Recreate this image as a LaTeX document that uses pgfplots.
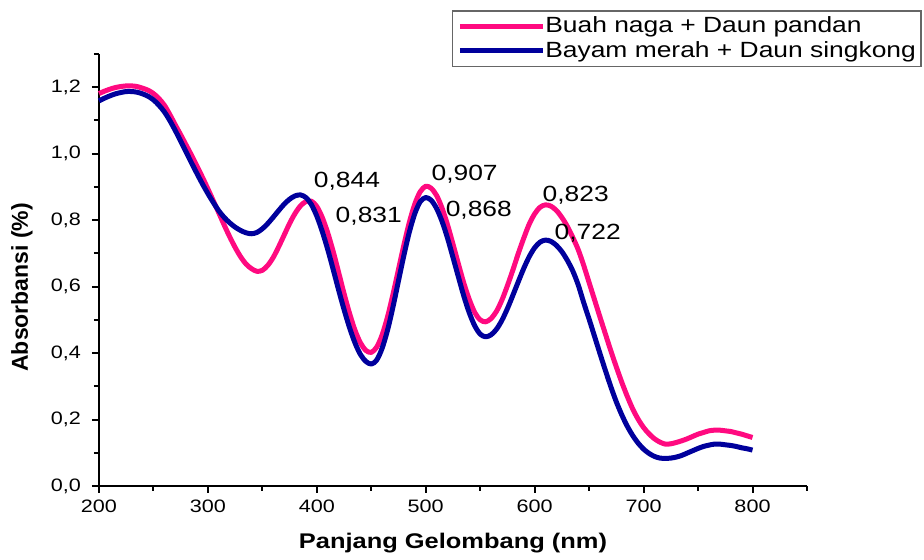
\documentclass[border=0pt]{standalone}
\usepackage{pgfplots}
\pgfplotsset{compat=1.18}
\usepackage{fontspec}
\setmainfont[FakeStretch=1.2]{Liberation Sans}
\newfontfamily\plainsans{Liberation Sans}
\definecolor{pinkc}{HTML}{FF0A80}
\definecolor{bluec}{HTML}{00009C}
\begin{document}
\begin{tikzpicture}
\begin{axis}[
  scale only axis, width=354pt, height=216pt,
  xmin=200, xmax=850, ymin=0, ymax=1.3,
  axis x line*=bottom, axis y line*=left,
  axis line style={line width=1pt, -},
  xtick={200,300,400,500,600,700,800},
  minor xtick={250,350,450,550,650,750,850},
  ytick={0,0.2,0.4,0.6,0.8,1.0,1.2},
  minor ytick={0.1,0.3,0.5,0.7,0.9,1.1,1.3},
  tick align=outside, major tick length=3.5pt, minor tick length=2.5pt,
  tick style={line width=1pt, black},
  /pgf/number format/assume math mode=true,
  yticklabel style={/pgf/number format/fixed, /pgf/number format/fixed zerofill, /pgf/number format/precision=1, /pgf/number format/use comma, xshift=-2pt},
  xticklabel style={/pgf/number format/fixed, /pgf/number format/1000 sep={}},
  ticklabel style={font=\fontsize{9}{10}\selectfont},
  xlabel={Panjang Gelombang (nm)}, ylabel={Absorbansi (\%)},
  xlabel style={font=\bfseries\fontsize{10.6}{13}\selectfont, at={(axis description cs:0.5,-0.132)}, anchor=center},
  ylabel style={font=\plainsans\bfseries\fontsize{11.5}{13}\selectfont, at={(axis description cs:-0.109,0.46)}, anchor=center},
  clip=false,
  legend cell align=left,
  legend style={at={(rel axis cs:1.162,1.102)}, anchor=north east,
    draw=black!60, line width=0.8pt, font=\fontsize{11}{13}\selectfont,
    inner xsep=2.5pt, inner ysep=1.7pt,
    nodes={inner xsep=0pt, inner ysep=1.4pt}},
  legend image code/.code={\path (0pt,0pt) -- (41.5pt,0pt); \draw[#1] (7.5pt,0pt) -- (37.5pt,0pt);},
]
\addplot[pinkc, line width=2.5pt, smooth, line join=round] coordinates {
(200,1.181) (205,1.188) (210,1.194) (215,1.199) (220,1.202) (225,1.204)
(230,1.204) (235,1.202) (240,1.197) (245,1.191) (250,1.181) (255,1.166)
(260,1.146) (265,1.118) (270,1.087) (275,1.057) (280,1.026) (285,0.995)
(290,0.962) (295,0.929) (300,0.894) (305,0.858) (310,0.822) (315,0.785)
(320,0.750) (325,0.718) (330,0.690) (335,0.668) (340,0.654) (345,0.646)
(350,0.649) (355,0.664) (360,0.688) (365,0.720) (370,0.755) (375,0.790)
(380,0.820) (385,0.843) (390,0.856) (395,0.857) (400,0.841) (405,0.808)
(410,0.762) (415,0.706) (420,0.643) (425,0.579) (430,0.520) (435,0.469)
(440,0.431) (445,0.408) (450,0.402) (455,0.418) (460,0.455) (465,0.510)
(470,0.578) (475,0.652) (480,0.726) (485,0.794) (490,0.849) (495,0.886)
(500,0.902) (505,0.896) (510,0.874) (515,0.836) (520,0.786) (525,0.728)
(530,0.668) (535,0.610) (540,0.561) (545,0.522) (550,0.500) (555,0.494)
(560,0.504) (565,0.526) (570,0.560) (575,0.603) (580,0.650) (585,0.700)
(590,0.746) (595,0.788) (600,0.819) (605,0.839) (610,0.846) (615,0.842)
(620,0.829) (625,0.808) (630,0.781) (635,0.748) (640,0.711) (645,0.664)
(650,0.612) (655,0.560) (660,0.508) (665,0.457) (670,0.406) (675,0.358)
(680,0.312) (685,0.270) (690,0.232) (695,0.201) (700,0.176) (705,0.157)
(710,0.142) (715,0.132) (720,0.126) (725,0.127) (730,0.131) (735,0.136)
(740,0.142) (745,0.149) (750,0.156) (755,0.161) (760,0.166) (765,0.168)
(770,0.168) (775,0.166) (780,0.164) (785,0.160) (790,0.156) (795,0.151)
(800,0.146)};
\addlegendentry{Buah naga + Daun pandan}
\addplot[bluec, line width=2.5pt, smooth, line join=round] coordinates {
(200,1.159) (205,1.167) (210,1.174) (215,1.180) (220,1.184) (225,1.187)
(230,1.187) (235,1.185) (240,1.180) (245,1.173) (250,1.162) (255,1.146)
(260,1.126) (265,1.100) (270,1.070) (275,1.038) (280,1.005) (285,0.972)
(290,0.940) (295,0.909) (300,0.880) (305,0.853) (310,0.828) (315,0.808)
(320,0.792) (325,0.779) (330,0.769) (335,0.762) (340,0.759) (345,0.763)
(350,0.774) (355,0.790) (360,0.809) (365,0.829) (370,0.848) (375,0.863)
(380,0.873) (385,0.876) (390,0.868) (395,0.847) (400,0.812) (405,0.766)
(410,0.712) (415,0.652) (420,0.590) (425,0.531) (430,0.477) (435,0.431)
(440,0.396) (445,0.375) (450,0.367) (455,0.379) (460,0.415) (465,0.470)
(470,0.540) (475,0.618) (480,0.695) (485,0.765) (490,0.820) (495,0.856)
(500,0.868) (505,0.860) (510,0.835) (515,0.796) (520,0.746) (525,0.688)
(530,0.629) (535,0.571) (540,0.521) (545,0.482) (550,0.457) (555,0.449)
(560,0.455) (565,0.472) (570,0.499) (575,0.534) (580,0.574) (585,0.615)
(590,0.655) (595,0.690) (600,0.717) (605,0.734) (610,0.740) (615,0.736)
(620,0.724) (625,0.705) (630,0.679) (635,0.647) (640,0.605) (645,0.552)
(650,0.502) (655,0.450) (660,0.398) (665,0.347) (670,0.298) (675,0.253)
(680,0.214) (685,0.180) (690,0.152) (695,0.129) (700,0.111) (705,0.098)
(710,0.089) (715,0.084) (720,0.083) (725,0.084) (730,0.087) (735,0.092)
(740,0.099) (745,0.106) (750,0.113) (755,0.119) (760,0.123) (765,0.126)
(770,0.126) (775,0.124) (780,0.122) (785,0.119) (790,0.115) (795,0.112)
(800,0.108)};
\addlegendentry{Bayam merah + Daun singkong}
\begin{scope}[every node/.style={anchor=west, inner sep=0pt, font=\fontsize{11}{12}\selectfont}]
\node at (axis cs:397,0.917) {0,844};
\node at (axis cs:417,0.812) {0,831};
\node at (axis cs:505,0.938) {0,907};
\node at (axis cs:518,0.829) {0,868};
\node at (axis cs:607,0.875) {0,823};
\node at (axis cs:618,0.762) {0,722};
\end{scope}
\path (rel axis cs:-0.1398,-0.1667) rectangle (rel axis cs:1.1653,1.125);
\end{axis}
\end{tikzpicture}
\end{document}
